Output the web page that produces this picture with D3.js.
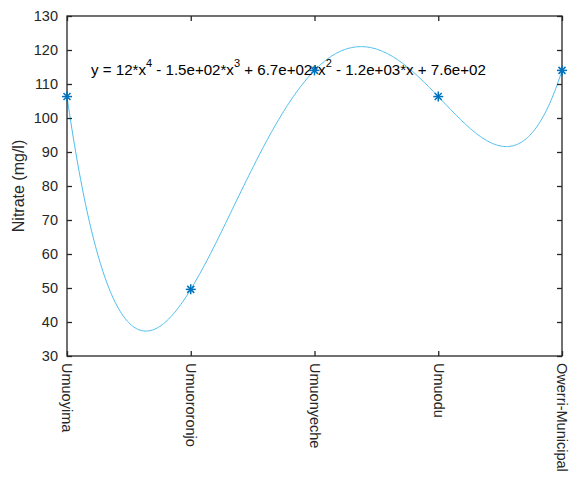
<!DOCTYPE html>
<html><head><meta charset="utf-8">
<script src="https://cdn.jsdelivr.net/npm/d3@7"></script>
<style>body{margin:0;background:#fff}svg{display:block}</style>
</head><body>
<svg id="c" width="574" height="479"></svg>
<script>
const categories = ["Umuoyima","Umuororonjo","Umuonyeche","Umuodu","Owerri-Municipal"];
const nitrate = [106.3, 49.6, 114.0, 106.3, 114.0];
const yTicks = [30,40,50,60,70,80,90,100,110,120,130];
const eqParts = [
  {t:"y = 12*x", sup:false},{t:"4", sup:true},
  {t:" - 1.5e+02*x", sup:false},{t:"3", sup:true},
  {t:" + 6.7e+02*x", sup:false},{t:"2", sup:true},
  {t:" - 1.2e+03*x + 7.6e+02", sup:false}
];

const W=574,H=479, L=67, R=562, T=16, B=356;
const svg = d3.select("#c");
const xs = categories.map((d,i)=>i+1);
const x = d3.scaleLinear().domain([1,5]).range([L,R]);
const y = d3.scaleLinear().domain([30,130]).range([B,T]);
const ink="#262626";
const font="Liberation Sans, Arial, Helvetica, sans-serif";

// degree-4 polynomial fit through the 5 points (Lagrange form = polyfit n=4)
function fit(t){
  let s=0;
  for(let i=0;i<xs.length;i++){
    let l=1;
    for(let j=0;j<xs.length;j++) if(j!==i) l*=(t-xs[j])/(xs[i]-xs[j]);
    s+=nitrate[i]*l;
  }
  return s;
}
const fitPts = d3.range(0,401).map(k=>{const t=1+4*k/400;return [t,fit(t)];});

svg.append("defs").append("clipPath").attr("id","clip")
  .append("rect").attr("x",L).attr("y",T).attr("width",R-L).attr("height",B-T);

svg.append("path").datum(fitPts)
  .attr("clip-path","url(#clip)")
  .attr("fill","none").attr("stroke","#4DBEEE").attr("stroke-width",1)
  .attr("d",d3.line().x(d=>x(d[0])).y(d=>y(d[1])));

// box
svg.append("rect").attr("x",L).attr("y",T).attr("width",R-L).attr("height",B-T)
  .attr("fill","none").attr("stroke",ink).attr("stroke-width",1.3);

// y axis left & right ticks
const yAx = d3.axisLeft(y).tickValues(yTicks).tickSize(-5).tickPadding(9);
const gy = svg.append("g").attr("transform",`translate(${L},0)`).call(yAx);
gy.select(".domain").remove();
gy.selectAll("line").attr("stroke",ink).attr("stroke-width",1.3);
gy.selectAll("text").attr("fill",ink).style("font-family",font).style("font-size","14.5px");
const gyr = svg.append("g").attr("transform",`translate(${R},0)`).call(d3.axisRight(y).tickValues(yTicks).tickSize(-5).tickFormat(""));
gyr.select(".domain").remove();
gyr.selectAll("line").attr("stroke",ink).attr("stroke-width",1.3);

// x axis bottom & top
const gx = svg.append("g").attr("transform",`translate(0,${B})`)
  .call(d3.axisBottom(x).tickValues(xs).tickSize(-5).tickFormat((d,i)=>categories[i]));
gx.select(".domain").remove();
gx.selectAll("line").attr("stroke",ink).attr("stroke-width",1.3);
gx.selectAll("text").attr("fill",ink).style("font-family",font).style("font-size","14.5px")
  .attr("transform","rotate(90)").attr("x",7).attr("y",0).attr("dy","0.35em").attr("text-anchor","start");
const gxt = svg.append("g").attr("transform",`translate(0,${T})`)
  .call(d3.axisTop(x).tickValues(xs).tickSize(-5).tickFormat(""));
gxt.select(".domain").remove();
gxt.selectAll("line").attr("stroke",ink).attr("stroke-width",1.3);

// y label
svg.append("text").attr("transform",`translate(24,${(T+B)/2}) rotate(-90)`)
  .attr("text-anchor","middle").attr("fill",ink)
  .style("font-family",font).style("font-size","16px").text("Nitrate (mg/l)");

// equation (drawn before markers so markers sit on top)
const eq = svg.append("text").attr("x",91).attr("y",75).attr("fill","#000")
  .attr("xml:space","preserve").style("white-space","pre")
  .style("font-family",font).style("font-size","15.1px");
eqParts.forEach((p,i)=>{
  const ts = eq.append("tspan").text(p.t);
  if(p.sup) ts.attr("dy",-8).style("font-size","11px");
  else ts.attr("dy", i>0 && eqParts[i-1].sup ? 8 : 0);
});

// markers '*'
const r=5;
const mk = svg.append("g").selectAll("g").data(nitrate).join("g")
  .attr("transform",(d,i)=>`translate(${x(xs[i])},${y(d)})`)
  .attr("stroke","#0072BD").attr("stroke-width",1.5);
mk.append("line").attr("x1",-r).attr("x2",r);
mk.append("line").attr("y1",-r).attr("y2",r);
mk.append("line").attr("x1",-r*0.7).attr("y1",-r*0.7).attr("x2",r*0.7).attr("y2",r*0.7);
mk.append("line").attr("x1",-r*0.7).attr("y1",r*0.7).attr("x2",r*0.7).attr("y2",-r*0.7);
</script>
</body></html>
